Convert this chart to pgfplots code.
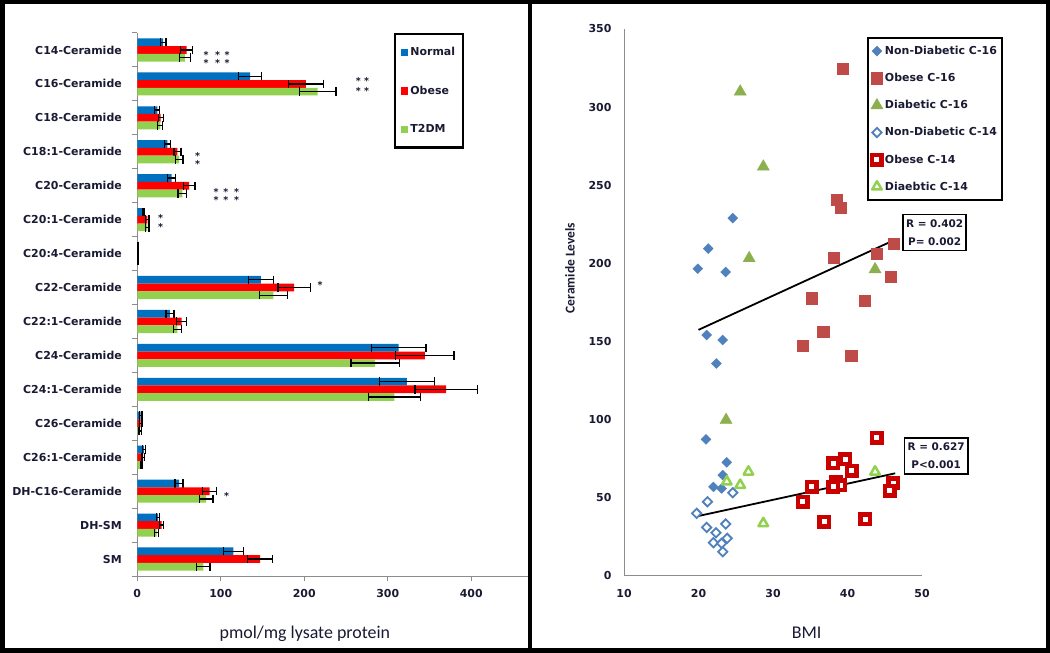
\documentclass[border=0pt]{standalone}
\usepackage{pgfplots}
\pgfplotsset{compat=1.18}
\usepackage{pgfplotstable}
\usepackage{fontspec}
\setmainfont{DejaVu Sans}
\newfontfamily\carlito{Carlito}

\definecolor{nblue}{HTML}{0070C0}
\definecolor{ored}{HTML}{FF0000}
\definecolor{tgreen}{HTML}{92D050}
\definecolor{sblue}{HTML}{4F81BD}
\definecolor{sred}{HTML}{BE4B48}
\definecolor{sgreen}{HTML}{8DB04E}
\definecolor{dred}{HTML}{C80000}
\definecolor{lgreen}{HTML}{92D050}
\definecolor{axgray}{HTML}{8C8C8C}
\definecolor{txt}{HTML}{1A1A33}

\pgfplotstableread{
y b be r re g ge
15 31 3.5 59 7 57 6.5
14 135 14 202 21 216 22
13 24 3 28 3 27.5 3
12 36 3.4 48 4.2 50 4.6
11 41 4.6 62 7 54 5.2
10 8 1 12 2 12 2
9 0.5 0.3 0.5 0.3 0.5 0.3
8 148 15 188 19.5 163 16.5
7 39 4.8 53 5.8 48 4.8
6 313 32.7 344.5 35 285 29
5 323 33 370 37.5 308 31
4 4 1.5 4 1.5 3.5 1.5
3 8 1.5 7 1.5 5.5 1
2 50 4.8 86.5 8.2 82.5 8.2
1 25 2 29 2.4 23 2.8
0 115 12 147 14.8 79 8.2
}\bardata

\pgfplotstableread{
x y
24.6 229
21.3 209.5
19.9 196.6
23.65 194.5
21.1 154.2
23.25 151
22.4 136
21.0 87.4
23.8 72.7
23.25 64.6
22.0 57
23.1 56
}\ndsixteen

\pgfplotstableread{
x y
39.4 324.8
38.6 241
39.1 235.9
46.2 212.4
38.2 203.9
43.9 206
45.8 191.5
35.2 177.7
42.3 176
36.75 156.3
34.0 147.6
40.5 140.8
}\obsixteen

\pgfplotstableread{
x y
25.6 309.9
28.7 261.9
26.8 203.3
43.7 196.2
23.7 99.8
}\disixteen

\pgfplotstableread{
x y
19.75 40.1
21.2 47.5
21.1 31.1
23.65 33.3
22.35 27.7
23.85 24.1
22.0 21.3
23.1 20.9
23.25 15.5
24.6 53.3
}\ndfourteen

\pgfplotstableread{
x y
43.9 88.5
38.1 72.1
39.7 74.6
40.55 67.4
38.5 60.4
39.0 58.2
38.1 57
35.2 57
34.0 47.5
36.85 34.7
42.35 36.3
46.15 59.3
45.7 54.6
}\obfourteen

\pgfplotstableread{
x y
26.7 66.7
23.8 60.4
25.6 58.2
28.7 33.7
43.7 66.7
}\difourteen

\pgfplotsset{
  myleg/.style={legend image code/.code={\draw[mark repeat=2,mark phase=2,##1] plot coordinates {(0bp,0bp) (5bp,0bp) (10bp,0bp)};}},
  errb/.style={error bars/.cd, x dir=both, x explicit,
    error bar style={black, line width=1.3bp},
    error mark options={black, line width=1.3bp, mark size=4.2bp, rotate=90}},
}
\newcommand\sig[2]{\node[inner sep=0pt, font=\fontsize{9.5}{9.5}\selectfont\bfseries, text=txt, yshift=-1.5bp] at (axis cs:#1,#2) {*};}

\begin{document}
\begin{tikzpicture}
\useasboundingbox (0bp,0bp) rectangle (1050bp,653bp);
\fill[white] (0bp,0bp) rectangle (1050bp,653bp);

% ---------------- left panel ----------------
\begin{axis}[
  at={(137.3bp,77bp)}, anchor=south west, scale only axis,
  width=390.7bp, height=543bp,
  xmin=0, xmax=468, ymin=-0.5, ymax=15.5,
  axis x line*=bottom, axis y line*=left,
  axis line style={axgray, line width=1bp},
  xtick={0,100,200,300,400},
  ytick={0,...,15},
  yticklabels={SM,DH-SM,DH-C16-Ceramide,C26:1-Ceramide,C26-Ceramide,C24:1-Ceramide,C24-Ceramide,C22:1-Ceramide,C22-Ceramide,C20:4-Ceramide,C20:1-Ceramide,C20-Ceramide,C18:1-Ceramide,C18-Ceramide,C16-Ceramide,C14-Ceramide},
  minor ytick={-0.5,0.5,...,15.5},
  tick align=outside,
  major tick length=5bp, minor tick length=5bp,
  major y tick style={draw=none},
  minor y tick style={axgray, line width=1bp},
  major x tick style={axgray, line width=1bp},
  /pgf/number format/assume math mode=true,
  tick label style={font=\fontsize{11}{13}\selectfont\bfseries, text=txt},
  yticklabel style={xshift=-7bp},
  xticklabel style={yshift=-5bp},
  xlabel={pmol/mg lysate protein},
  xlabel style={font=\carlito\fontsize{18}{20}\selectfont, text=txt, at={(axis description cs:0.429,0)}, anchor=center, yshift=-58bp},
  legend style={at={(0.657,1)}, anchor=north west, draw=black, line width=2.5bp, fill=white,
    font=\fontsize{11}{13}\selectfont\bfseries, text=txt, row sep=25bp, inner xsep=6bp, inner ysep=11bp},
  legend cell align=left,
  clip=false,
]
\addplot[xbar, bar width=7.7bp, bar shift=0bp, fill=nblue, draw=none,
  legend image code/.code={\fill[nblue] (0bp,-3.6bp) rectangle (7.2bp,3.6bp);}, errb]
  table[x=b, y expr=\thisrow{y}+0.2269, x error=be] {\bardata};
\addlegendentry{Normal}
\addplot[xbar, bar width=7.7bp, bar shift=0bp, fill=ored, draw=none,
  legend image code/.code={\fill[ored] (0bp,-3.6bp) rectangle (7.2bp,3.6bp);}, errb]
  table[x=r, y=y, x error=re] {\bardata};
\addlegendentry{Obese}
\addplot[xbar, bar width=7.7bp, bar shift=0bp, fill=tgreen, draw=none,
  legend image code/.code={\fill[tgreen] (0bp,-3.6bp) rectangle (7.2bp,3.6bp);}, errb]
  table[x=g, y expr=\thisrow{y}-0.2269, x error=ge] {\bardata};
\addlegendentry{T2DM}
% significance marks
\sig{82.3}{14.91}\sig{96.2}{14.91}\sig{107.6}{14.91}
\sig{82.3}{14.65}\sig{96.2}{14.65}\sig{107.6}{14.65}
\sig{264.7}{14.12}\sig{274.7}{14.12}
\sig{264.7}{13.84}\sig{274.7}{13.84}
\sig{72.3}{11.93}\sig{72.3}{11.69}
\sig{94.3}{10.85}\sig{106.2}{10.85}\sig{119}{10.85}
\sig{94.3}{10.61}\sig{106.2}{10.61}\sig{119}{10.61}
\sig{28}{10.09}\sig{28}{9.82}
\sig{218.9}{8.125}
\sig{107.1}{1.89}
\end{axis}

% ---------------- right panel ----------------
\begin{axis}[
  at={(624bp,77bp)}, anchor=south west, scale only axis,
  width=298bp, height=547bp,
  xmin=10, xmax=50, ymin=0, ymax=350,
  axis x line*=bottom, axis y line*=left,
  axis line style={axgray, line width=1bp},
  xtick={10,20,30,40,50}, ytick={0,50,...,350},
  major tick length=0pt,
  /pgf/number format/assume math mode=true,
  tick label style={font=\fontsize{11}{13}\selectfont\bfseries, text=txt},
  yticklabel style={xshift=-9bp},
  xticklabel style={yshift=-10bp},
  xlabel={BMI},
  xlabel style={font=\carlito\fontsize{18}{20}\selectfont, text=txt, at={(axis description cs:0.613,0)}, anchor=center, yshift=-57bp},
  ylabel={Ceramide Levels},
  ylabel style={font=\carlito\fontsize{13.5}{15}\selectfont\bfseries, text=txt, at={(axis description cs:-0.181,0.563)}, anchor=center},
  legend style={at={(0.815,0.985)}, anchor=north west, draw=black, line width=2bp, fill=white,
    font=\fontsize{11}{13}\selectfont\bfseries, text=txt, row sep=13.3bp, inner xsep=3bp, inner ysep=6bp},
  legend cell align=left,
  clip=false,
]
\addplot[only marks, mark=square*, mark size=3.5bp, line width=0.4bp,
  mark options={rotate=45, fill=sblue, draw=sblue, line width=0.4bp}, myleg] table[x=x,y=y] {\ndsixteen};
\addlegendentry{Non-Diabetic C-16}
\addplot[only marks, mark=square*, mark size=5.6bp, line width=0.4bp,
  mark options={fill=sred, draw=sred, line width=0.4bp}, myleg] table[x=x,y=y] {\obsixteen};
\addlegendentry{Obese C-16}
\addplot[only marks, mark=triangle*, mark size=7bp, line width=0.4bp,
  mark options={fill=sgreen, draw=sgreen, line width=0.4bp}, myleg] table[x=x,y=y] {\disixteen};
\addlegendentry{Diabetic C-16}
\addplot[only marks, mark=square*, mark size=3.3bp, line width=1.8bp,
  mark options={rotate=45, fill=white, draw=sblue, line width=1.8bp}, myleg] table[x=x,y=y] {\ndfourteen};
\addlegendentry{Non-Diabetic C-14}
\addplot[only marks, mark=square*, mark size=4.75bp, line width=4.5bp,
  mark options={fill=white, draw=dred, line width=4.5bp}, myleg] table[x=x,y=y] {\obfourteen};
\addlegendentry{Obese C-14}
\addplot[only marks, mark=triangle*, mark size=5.5bp, line width=2.5bp,
  mark options={fill=white, draw=lgreen, line width=2.5bp, line join=round}, myleg] table[x=x,y=y] {\difourteen};
\addlegendentry{Diaebtic C-14}
\addplot[black, line width=1.8bp, forget plot] coordinates {(20,157.5) (46.3,215)};
\addplot[black, line width=1.8bp, forget plot] coordinates {(20,38.4) (46.4,65.7)};
\node[draw=black, line width=1.8bp, fill=white, align=center, inner xsep=3bp, inner ysep=5bp,
  font=\fontsize{10.5}{18}\selectfont\bfseries, text=txt] at (axis cs:51.7,219.8) {R = 0.402\\P= 0.002};
\node[draw=black, line width=1.8bp, fill=white, align=center, inner xsep=3bp, inner ysep=5bp,
  font=\fontsize{10.5}{18}\selectfont\bfseries, text=txt] at (axis cs:51.9,76.8) {R = 0.627\\P<0.001};
\end{axis}

% frames
\draw[line width=4.5bp, black] (2.25bp,2.25bp) rectangle (1047.75bp,650.75bp);
\draw[line width=4bp, black] (530bp,0bp) -- (530bp,653bp);
\end{tikzpicture}
\end{document}
